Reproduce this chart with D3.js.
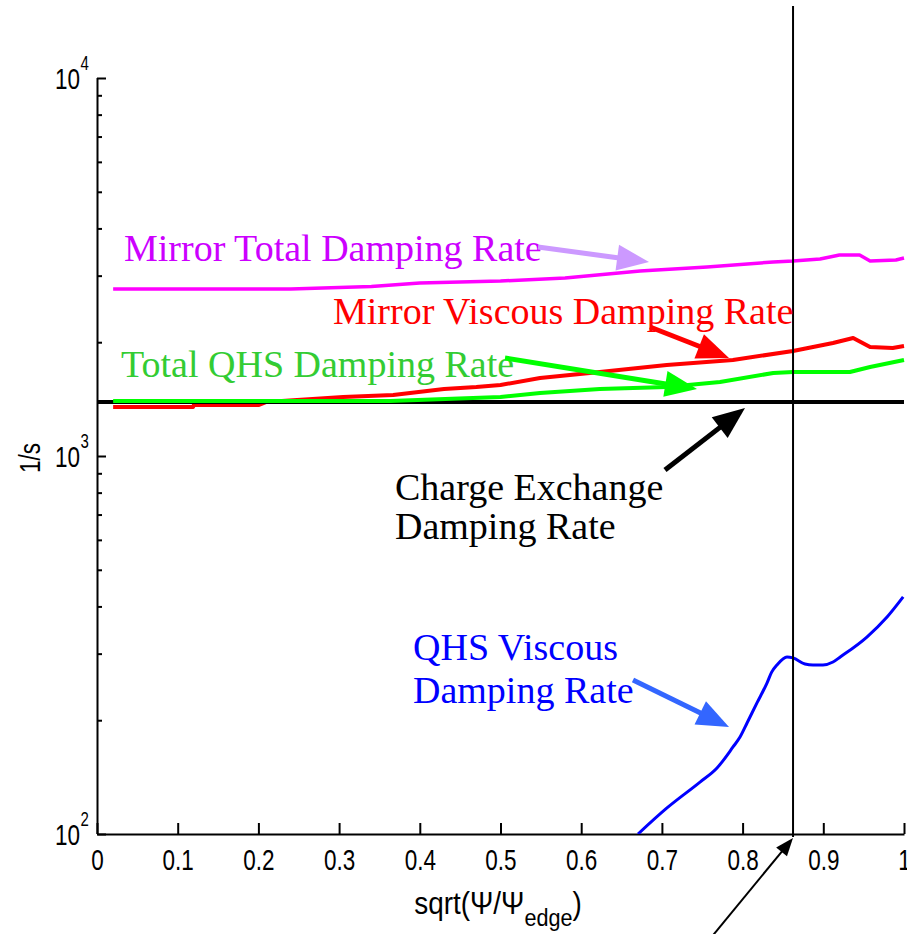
<!DOCTYPE html>
<html>
<head>
<meta charset="utf-8">
<script src="https://cdn.jsdelivr.net/npm/d3@7"></script>
<style>
  body { margin: 0; background: #fff; }
  .lbl { font-family: "Liberation Sans", Arial, sans-serif; }
  .ann { font-family: "Liberation Serif", "Times New Roman", serif; font-size: 38px; }
</style>
</head>
<body>
<svg id="chart"></svg>
<script>
// x positions, sqrt(psi/psi_edge)
var mirrorTotalX   = [0.02, 0.24, 0.34, 0.40, 0.50, 0.58, 0.673, 0.756, 0.838, 0.8625, 0.896, 0.92, 0.945, 0.958, 0.99, 1.0];
var mirrorTotalY   = [2766, 2766, 2808, 2869, 2904, 2958, 3087, 3162, 3260, 3280, 3320, 3402, 3402, 3280, 3300, 3340];

var mirrorViscX    = [0.02, 0.119, 0.12, 0.20, 0.21, 0.305, 0.367, 0.388, 0.43, 0.47, 0.50, 0.549, 0.623, 0.706, 0.788, 0.8625, 0.912, 0.937, 0.958, 0.986, 1.0];
var mirrorViscY    = [1348, 1348, 1364, 1364, 1390, 1432, 1450, 1468, 1504, 1522, 1541, 1608, 1668, 1740, 1795, 1896, 1991, 2052, 1943, 1931, 1954];

var qhsTotalX      = [0.02, 0.363, 0.50, 0.549, 0.623, 0.706, 0.772, 0.838, 0.8625, 0.933, 0.958, 1.0];
var qhsTotalY      = [1398, 1398, 1432, 1468, 1504, 1522, 1570, 1658, 1668, 1668, 1719, 1795];

var qhsViscX       = [0.6704, 0.7063, 0.7472, 0.7683, 0.7881, 0.7968, 0.8055, 0.8178, 0.8302, 0.836, 0.8426, 0.855, 0.8625, 0.8773, 0.8872, 0.8996, 0.912, 0.921, 0.954, 0.979, 0.999];
var qhsViscY       = [100, 117.2, 137.2, 149.5, 169.9, 180.5, 196.6, 222.2, 250.8, 268, 280, 294, 292.3, 281.7, 280, 280, 285.1, 294, 332, 375, 424];

var chargeExX      = [0, 1];
var chargeExY      = [1390, 1390];

var markX = 0.8625;

var xTicks = [0, 0.1, 0.2, 0.3, 0.4, 0.5, 0.6, 0.7, 0.8, 0.9, 1];
var xTickLabels = ["0", "0.1", "0.2", "0.3", "0.4", "0.5", "0.6", "0.7", "0.8", "0.9", "1"];
var yMajor = [100, 1000, 10000];
var yMajorExp = ["2", "3", "4"];

var width = 907, height = 934;
var narrow = "scale(0.75,1)";

var svg = d3.select("#chart")
  .attr("width", width)
  .attr("height", height);

var x = d3.scaleLinear().domain([0, 1]).range([97, 904]);
var y = d3.scaleLog().domain([100, 10000]).range([834, 78]);

svg.append("defs").append("clipPath").attr("id", "plotclip")
  .append("rect")
  .attr("x", x(0)).attr("y", y(10000) - 10)
  .attr("width", x(1) - x(0) + 4).attr("height", y(100) - y(10000) + 10);

var yMinor = [];
[100, 1000].forEach(function(b) { for (var k = 2; k <= 9; k++) yMinor.push(b * k); });

// minor y ticks
svg.append("g")
  .attr("transform", "translate(" + x(0) + ",0)")
  .call(d3.axisRight(y).tickValues(yMinor).tickSize(5).tickFormat(""))
  .call(function(g) { g.select(".domain").remove(); })
  .selectAll("line").attr("stroke", "#000").attr("stroke-width", 2);

// major y ticks
var yAx = svg.append("g")
  .attr("transform", "translate(" + x(0) + ",0)")
  .call(d3.axisRight(y).tickValues(yMajor).tickSize(9).tickSizeOuter(0).tickFormat(""));
yAx.select(".domain").attr("stroke", "#000").attr("stroke-width", 2)
  .attr("d", "M0.5," + y(10000) + "V" + y(100));
yAx.selectAll("line").attr("stroke", "#000").attr("stroke-width", 2);

yMajor.forEach(function(v, i) {
  svg.append("text").attr("class", "lbl")
    .attr("transform", "translate(80," + (y(v) + 10.5) + ") " + narrow)
    .attr("text-anchor", "end")
    .style("font-size", "30px")
    .text("10");
  svg.append("text").attr("class", "lbl")
    .attr("transform", "translate(80.5," + (y(v) - 8) + ") " + narrow)
    .style("font-size", "20px")
    .text(yMajorExp[i]);
});

// x axis
var xAx = svg.append("g")
  .attr("transform", "translate(0," + y(100) + ")")
  .call(d3.axisTop(x).tickValues(xTicks).tickSize(11).tickSizeOuter(0)
    .tickFormat(function(d, i) { return xTickLabels[i]; }));
xAx.select(".domain").attr("stroke", "#000").attr("stroke-width", 2);
xAx.selectAll("line").attr("stroke", "#000").attr("stroke-width", 2);
xAx.selectAll("text")
  .attr("class", "lbl")
  .attr("y", 36)
  .attr("dy", 0)
  .attr("transform", narrow)
  .style("font-size", "30px")
  .attr("fill", "#000");

// axis titles
var xl = svg.append("text").attr("class", "lbl")
  .attr("transform", "translate(498,914) scale(0.9,1)")
  .attr("text-anchor", "middle")
  .style("font-size", "31px");
xl.append("tspan").text("sqrt(\u03A8/\u03A8");
xl.append("tspan").attr("dy", 12).style("font-size", "24px").text("edge");
xl.append("tspan").attr("dy", -12).text(")");

svg.append("text").attr("class", "lbl")
  .attr("transform", "translate(40,458) rotate(-90) " + narrow)
  .attr("text-anchor", "middle")
  .style("font-size", "30px")
  .text("1/s");

// data lines
var line = d3.line()
  .x(function(d) { return x(d[0]); })
  .y(function(d) { return y(d[1]); });

var plot = svg.append("g").attr("clip-path", "url(#plotclip)");

function addSeries(xs, ys, color, w, curve) {
  plot.append("path")
    .datum(d3.zip(xs, ys))
    .attr("fill", "none")
    .attr("stroke", color)
    .attr("stroke-width", w)
    .attr("stroke-linejoin", "round")
    .attr("d", line.curve(curve || d3.curveLinear));
}

addSeries(mirrorViscX, mirrorViscY, "#ff0000", 4);
addSeries(chargeExX, chargeExY, "#000000", 4);
addSeries(qhsTotalX, qhsTotalY, "#00ff00", 4);
addSeries(mirrorTotalX, mirrorTotalY, "#ff00ff", 3.5);
addSeries(qhsViscX, qhsViscY, "#0000ff", 3, d3.curveMonotoneX);

// marker line
svg.append("line")
  .attr("x1", x(markX)).attr("x2", x(markX))
  .attr("y1", 6).attr("y2", y(100) + 3)
  .attr("stroke", "#000").attr("stroke-width", 2);

// annotations
function arrow(x1, y1, x2, y2, color, w, hl, hw) {
  var dx = x2 - x1, dy = y2 - y1, L = Math.sqrt(dx * dx + dy * dy);
  var ux = dx / L, uy = dy / L;
  var bx = x2 - ux * hl, by = y2 - uy * hl;
  svg.append("line")
    .attr("x1", x1).attr("y1", y1).attr("x2", bx + ux * 2).attr("y2", by + uy * 2)
    .attr("stroke", color).attr("stroke-width", w);
  svg.append("polygon")
    .attr("points", [[x2, y2], [bx - uy * hw / 2, by + ux * hw / 2], [bx + uy * hw / 2, by - ux * hw / 2]].join(" "))
    .attr("fill", color);
}

var labels = [
  {t: "Mirror Total Damping Rate", x: 124, y: 261, c: "#cc00ff"},
  {t: "Mirror Viscous Damping Rate", x: 333, y: 324, c: "#ff0000"},
  {t: "Total QHS Damping Rate", x: 121, y: 377, c: "#33cc33"},
  {t: "Charge Exchange", x: 395, y: 500, c: "#000000"},
  {t: "Damping Rate", x: 395, y: 539, c: "#000000"},
  {t: "QHS Viscous", x: 413, y: 660, c: "#0000ff"},
  {t: "Damping Rate", x: 413, y: 703, c: "#0000ff"}
];
labels.forEach(function(l) {
  svg.append("text").attr("class", "ann")
    .attr("x", l.x).attr("y", l.y)
    .attr("fill", l.c)
    .text(l.t);
});

arrow(538, 247, 649, 262, "#cc99ff", 5, 32, 26);
arrow(650, 327, 729, 358, "#ff0000", 5, 32, 26);
arrow(505, 358, 697, 389, "#00ff00", 5, 32, 26);
arrow(665, 470, 745, 408, "#000000", 5, 32, 26);
arrow(633, 680, 729, 727, "#3366ff", 5, 32, 26);
arrow(705, 945, 793, 838, "#000000", 2, 18, 14);
</script>
</body>
</html>
